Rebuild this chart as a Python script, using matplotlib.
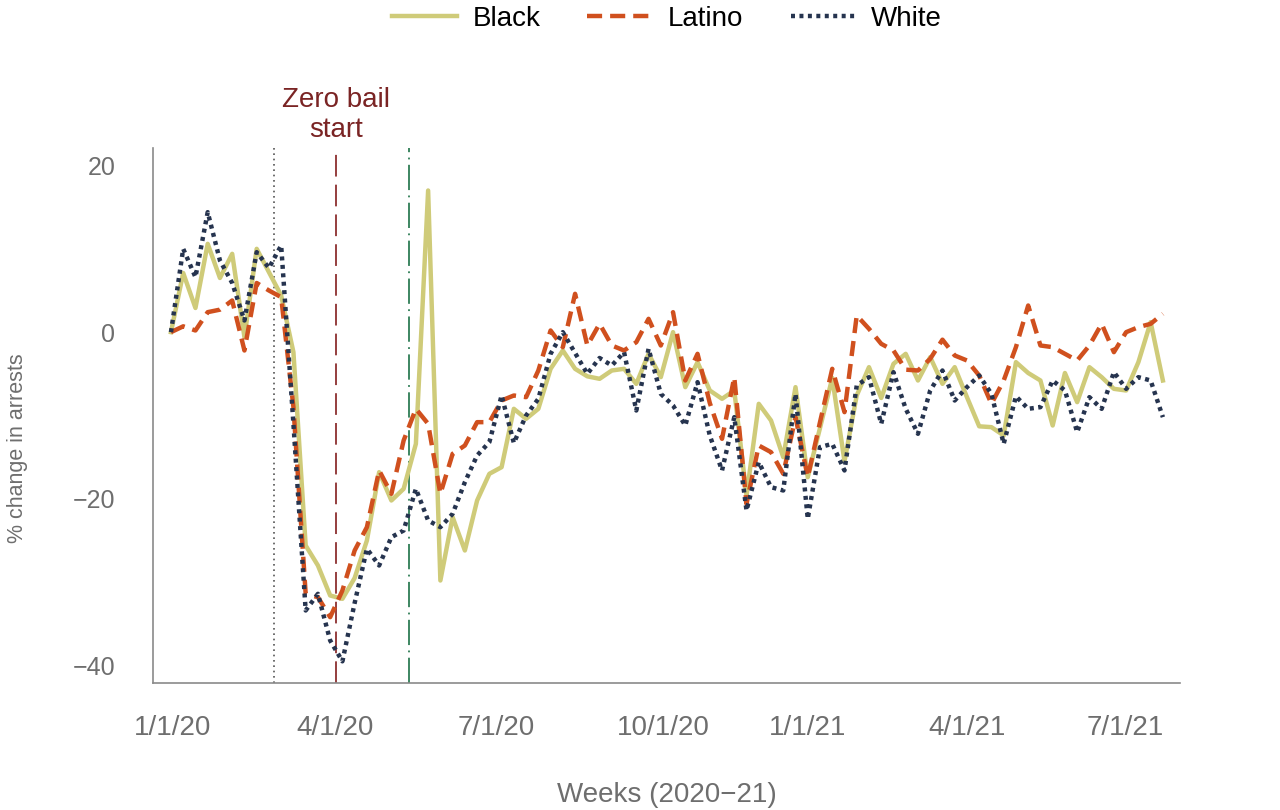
import matplotlib as mpl
mpl.use("Agg")
import matplotlib.pyplot as plt
import numpy as np

# weekly % change in arrests relative to first week of 2020
black = [0, 7.1, 2.9, 10.6, 6.5, 9.4, -0.6, 10.0, 7.2, 4.4,
         -2.4, -25.6, -28.0, -31.6, -32.0, -29.5, -25.0, -16.8, -20.2, -18.8,
         -13.4, 17.0, -29.8, -22.2, -26.2, -20.2, -17.0, -16.2, -9.2, -10.4,
         -9.2, -4.4, -2.2, -4.4, -5.3, -5.6, -4.6, -4.4, -6.2, -2.6,
         -5.4, 0.0, -6.6, -3.6, -7.0, -8.0, -7.0, -19.6, -8.6, -10.6,
         -15.0, -6.6, -17.4, -11.5, -5.5, -15.5, -7.6, -4.2, -7.9, -3.8,
         -2.6, -5.8, -3.0, -6.2, -4.2, -7.8, -11.3, -11.4, -12.4, -3.6,
         -4.9, -5.8, -11.2, -4.9, -8.4, -4.2, -5.4, -6.8, -7.0, -3.6,
         1.2, -5.8]
latino = [0, 0.7, 0.2, 2.4, 2.7, 3.8, -2.2, 5.9, 5.0, 4.2,
          -9.0, -31.4, -31.8, -34.2, -31.0, -26.2, -23.4, -16.6, -19.4, -13.0,
          -9.2, -11.0, -19.4, -14.6, -13.6, -10.8, -10.8, -8.2, -7.6, -7.8,
          -4.6, 0.2, -1.8, 4.6, -1.6, 1.0, -1.6, -2.2, -1.2, 1.6,
          -1.6, 2.4, -5.8, -2.6, -8.5, -12.8, -5.4, -20.6, -13.6, -14.4,
          -17.0, -10.2, -17.4, -10.8, -4.4, -9.6, 2.0, 0.4, -1.4, -2.2,
          -4.5, -4.6, -3.2, -0.9, -2.8, -3.4, -5.2, -8.6, -5.8, -1.8,
          3.2, -1.6, -1.8, -2.6, -3.4, -1.6, 1.0, -2.4, 0.0, 0.6,
          1.0, 2.2]
white = [0, 10.0, 6.6, 14.4, 8.6, 5.9, 1.4, 9.6, 7.7, 10.4,
         -11.0, -33.4, -31.4, -37.0, -39.5, -32.5, -26.0, -28.0, -24.6, -23.8,
         -18.8, -22.6, -23.4, -21.8, -18.0, -14.8, -13.2, -7.6, -13.3, -10.0,
         -8.0, -2.6, 0.0, -2.5, -5.0, -3.1, -4.0, -2.4, -9.4, -2.0,
         -7.4, -8.8, -11.2, -6.0, -12.4, -16.6, -10.2, -21.4, -15.6, -18.6,
         -19.0, -7.4, -22.4, -13.8, -13.4, -16.6, -6.4, -5.4, -11.0, -4.8,
         -9.2, -12.2, -7.0, -4.6, -8.2, -6.6, -5.2, -7.4, -13.4, -7.7,
         -9.2, -9.0, -5.8, -7.0, -12.0, -7.8, -9.2, -4.8, -6.8, -5.4,
         -5.8, -10.2]
weeks = np.arange(len(black))

# tick label positions in week units
tick_pos = [0.1, 13.4, 26.6, 40.2, 52.0, 65.0, 77.9]
tick_labels = ["1/1/20", "4/1/20", "7/1/20", "10/1/20", "1/1/21", "4/1/21", "7/1/21"]
events = [8.4, 13.5, 19.4]   # dotted marker, zero bail start (dashed), dash-dot marker

C_BLACK, C_LAT, C_WHITE = "#CFCB79", "#D0501E", "#26344F"
GREY = "#6E6E6E"

plt.rcParams["font.family"] = ["Liberation Sans", "DejaVu Sans"]

fig = plt.figure(figsize=(12.8, 8.1), dpi=100)
ax = fig.add_axes([0.1195, 0.1568, 0.8024, 0.6605])

ax.axvline(events[0], color="#555555", lw=1.2, ls=(0, (1, 2.2)), zorder=1)
ax.axvline(events[1], color="#8C2F2F", lw=1.3, ls=(0, (12, 4.5)), zorder=1)
ax.axvline(events[2], color="#2E7D55", lw=1.3, ls=(0, (14, 3, 1, 3)), zorder=1)

ax.plot(weeks, black, color=C_BLACK, lw=3.2, label="Black", zorder=3)
ax.plot(weeks, latino, color=C_LAT, lw=3.2, ls=(0, (3.4, 1.8)), label="Latino", zorder=4)
ax.plot(weeks, white, color=C_WHITE, lw=3.2, ls=(0, (0.9, 1.0)), label="White", zorder=5)

ax.text(events[1], 26.0, "Zero bail\nstart", ha="center", va="center", fontsize=20,
        color="#7A2424", linespacing=1.2)

ax.set_xlim(-1.47, 82.4)
ax.set_ylim(-42.1, 22.1)
ax.set_yticks([20, 0, -20, -40])
ax.set_yticklabels(["20", "0", "\u221220", "\u221240"])
ax.set_xticks(tick_pos)
ax.set_xticklabels(tick_labels)
ax.tick_params(axis="both", length=0, labelcolor=GREY)
ax.tick_params(axis="y", pad=27, labelsize=18)
ax.tick_params(axis="x", pad=23, labelsize=20)
for s in ("top", "right"):
    ax.spines[s].set_visible(False)
for s in ("left", "bottom"):
    ax.spines[s].set_color("#8A8A8A")
    ax.spines[s].set_linewidth(1.2)

ax.set_ylabel("% change in arrests", fontsize=15.5, color=GREY)
ax.yaxis.set_label_coords(-0.122, 0.439)
ax.set_xlabel("Weeks (2020\u221221)", fontsize=20, color=GREY)
ax.xaxis.set_label_coords(0.5, -0.185)

fig.legend(loc="upper center", bbox_to_anchor=(0.521, 1.024), ncol=3, frameon=False,
           fontsize=20, handlelength=2.35, columnspacing=1.7, handletextpad=0.55)

fig.savefig("out.png", dpi=100)
